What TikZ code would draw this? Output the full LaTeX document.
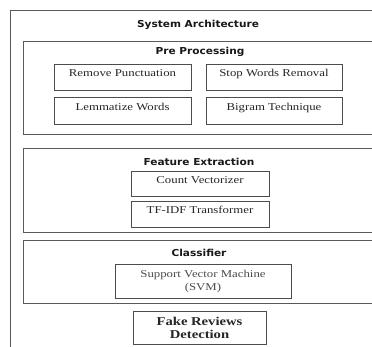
\documentclass[tikz,border=0pt]{standalone}
\usepackage{fontspec}
\newfontfamily\boxfont[FakeStretch=1.22]{Liberation Serif}
\newfontfamily\headfont[FakeStretch=1.1]{DejaVu Sans}
\begin{document}
\begin{tikzpicture}[x=1pt,y=-1pt,
  frame/.style={draw=black!65, line width=0.9pt, inner sep=0pt, outer sep=0pt},
  stepbox/.style={draw=black!70, line width=0.8pt, inner sep=0pt, outer sep=0pt,
    font=\boxfont\fontsize{10.5}{12}\selectfont, text=black!85,
    text height=4pt, text depth=4pt},
  heading/.style={inner sep=0pt, font=\headfont\bfseries\fontsize{9.6}{11}\selectfont, text=black!90}
]
\useasboundingbox (0,0) rectangle (372,347);
\begin{scope}
\clip (0,0) rectangle (372,347);
\fill[white] (0,0) rectangle (372,347);
\node[frame, minimum width=390pt, minimum height=400pt] (sys) at (205,210) {};
\node[heading] (syst) at (198,25) {System Architecture};

\node[frame, minimum width=377pt, minimum height=93pt] (pre) at (211.5,87.5) {};
\node[heading] (pret) at (200,52) {Pre Processing};
\node[stepbox, minimum width=137pt, minimum height=26pt] (rp) at (122.5,77) {Remove Punctuation};
\node[stepbox, minimum width=136pt, minimum height=26pt] (sw) at (274,77) {Stop Words Removal};
\node[stepbox, minimum width=137pt, minimum height=27pt] (lw) at (122.5,110.5) {Lemmatize Words};
\node[stepbox, minimum width=136pt, minimum height=27pt] (bt) at (274,110.5) {Bigram Technique};

\node[frame, minimum width=377pt, minimum height=84pt] (fe) at (211.5,190) {};
\node[heading] (fet) at (199,162) {Feature Extraction};
\node[stepbox, minimum width=138pt, minimum height=25pt] (cv) at (200,183.5) {Count Vectorizer};
\node[stepbox, minimum width=138pt, minimum height=26pt] (tf) at (200,214) {TF-IDF Transformer};

\node[frame, minimum width=377pt, minimum height=63pt] (cl) at (211.5,271.5) {};
\node[heading] (clt) at (199,253) {Classifier};
\node[stepbox, minimum width=176pt, minimum height=34pt, text height=, text depth=, align=center,
  font=\boxfont\fontsize{10.5}{13}\selectfont, text=black!70] (svm) at (203,281) {Support Vector Machine\\(SVM)};

\node[stepbox, minimum width=133pt, minimum height=33pt, text height=, text depth=, align=center,
  font=\boxfont\bfseries\fontsize{12}{13}\selectfont] (fr) at (199.5,327.5) {Fake Reviews\\Detection};
\end{scope}
\end{tikzpicture}
\end{document}
